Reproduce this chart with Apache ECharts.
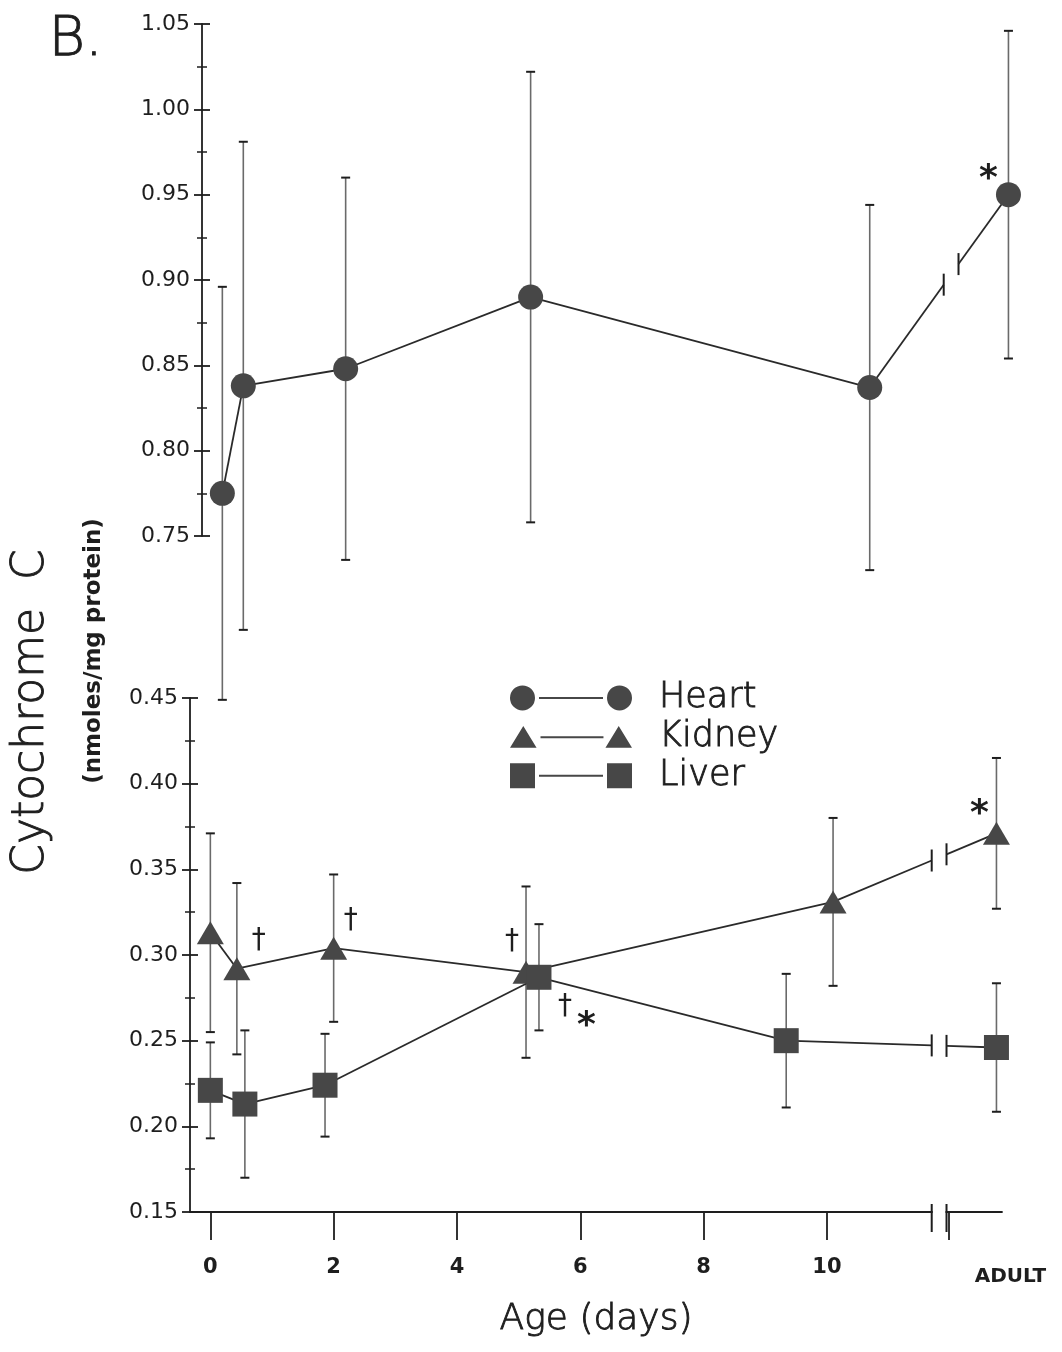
<!DOCTYPE html>
<html>
<head>
<meta charset="utf-8">
<script src="https://cdn.jsdelivr.net/npm/echarts@6/dist/echarts.min.js"></script>
<style>
  html, body { margin: 0; padding: 0; background: #fff; }
  #chart { width: 1062px; height: 1352px; }
</style>
</head>
<body>
<div id="chart"></div>
<script>
// Cytochrome C content by age, panel B
const ADULT_X = 12.75;

const heartDays = [0, 0.34, 2, 5, 10.5, ADULT_X];
const heartMean = [0.775, 0.838, 0.848, 0.890, 0.837, 0.950];
const heartErr = [0.121, 0.143, 0.112, 0.132, 0.107, 0.096];
const heartMarks = ['', '', '', '', '', '*'];

const kidneyDays = [0, 0.43, 2.0, 5.12, 10.1, ADULT_X];
const kidneyMean = [0.313, 0.292, 0.304, 0.290, 0.331, 0.371];
const kidneyErr = [0.058, 0.050, 0.043, 0.050, 0.049, 0.044];
const kidneyMarks = ['', '\u2020', '\u2020', '\u2020', '', '*'];

const liverDays = [0, 0.56, 1.86, 5.33, 9.34, ADULT_X];
const liverMean = [0.221, 0.213, 0.224, 0.287, 0.250, 0.246];
const liverErr = [0.028, 0.043, 0.030, 0.031, 0.039, 0.0375];
const liverMarks = ['', '', '', '\u2020*', '', ''];

const xTickValues = [0, 2, 4, 6, 8, 10];
const adultTick = 11.98;
const breakAt = [11.70, 11.94];

// axis ranges
const XMIN = -0.33, XMAX = 12.84;
const topRange = [0.75, 1.05];
const lowRange = [0.15, 0.45];

const ink = '#1e1e1e';
const markColor = '#474747';
const barColor = '#6a6a6a';
const font = 'DejaVu Sans';

// label offsets for the significance marks, keyed by series and point index
const markOffsets = {
  Heart: { 5: [-20, -15] },
  Kidney: { 1: [22, -28], 2: [17, -27], 3: [-14, -30], 5: [-17, -19] },
  Liver: { 3: [19, 39] }
};

const chart = echarts.init(document.getElementById('chart'));

function errorBars(days, mean, err, gridIdx) {
  return {
    type: 'custom',
    xAxisIndex: gridIdx,
    yAxisIndex: gridIdx * 2,
    clip: false,
    z: 2,
    silent: true,
    data: days.map((d, i) => [d, mean[i], err[i]]),
    encode: { x: 0, y: 1 },
    renderItem: function (params, api) {
      const x = api.value(0), y = api.value(1), e = api.value(2);
      const hi = api.coord([x, y + e]);
      const lo = api.coord([x, y - e]);
      const cap = 4.5;
      const st = { stroke: barColor, lineWidth: 1.6 };
      return {
        type: 'group',
        children: [
          { type: 'line', shape: { x1: hi[0], y1: hi[1], x2: lo[0], y2: lo[1] }, style: st },
          { type: 'line', shape: { x1: hi[0] - cap, y1: hi[1], x2: hi[0] + cap, y2: hi[1] }, style: { stroke: ink, lineWidth: 2 } },
          { type: 'line', shape: { x1: lo[0] - cap, y1: lo[1], x2: lo[0] + cap, y2: lo[1] }, style: { stroke: ink, lineWidth: 2 } }
        ]
      };
    }
  };
}

function connectLines(days, mean, gridIdx) {
  return {
    type: 'custom',
    xAxisIndex: gridIdx,
    yAxisIndex: gridIdx * 2,
    clip: false,
    z: 3,
    silent: true,
    data: days.map((d, i) => [d, mean[i]]),
    encode: { x: 0, y: 1 },
    renderItem: function (params, api) {
      const i = params.dataIndex;
      if (i === 0) return null;
      const a = api.coord([days[i - 1], mean[i - 1]]);
      const b = api.coord([days[i], mean[i]]);
      const st = { stroke: '#2a2a2a', lineWidth: 1.8 };
      if (days[i - 1] < breakAt[0] && days[i] > breakAt[1]) {
        const xl = api.coord([breakAt[0], mean[i]])[0];
        const xr = api.coord([breakAt[1], mean[i]])[0];
        const t = (x) => a[1] + (x - a[0]) / (b[0] - a[0]) * (b[1] - a[1]);
        const yl = t(xl), yr = t(xr);
        return {
          type: 'group',
          children: [
            { type: 'line', shape: { x1: a[0], y1: a[1], x2: xl, y2: yl }, style: st },
            { type: 'line', shape: { x1: xl, y1: yl - 11, x2: xl, y2: yl + 11 }, style: { stroke: ink, lineWidth: 2 } },
            { type: 'line', shape: { x1: xr, y1: yr - 11, x2: xr, y2: yr + 11 }, style: { stroke: ink, lineWidth: 2 } },
            { type: 'line', shape: { x1: xr, y1: yr, x2: b[0], y2: b[1] }, style: st }
          ]
        };
      }
      return { type: 'line', shape: { x1: a[0], y1: a[1], x2: b[0], y2: b[1] }, style: st };
    }
  };
}

function markText(mark) {
  // a dagger followed by an asterisk sits as a small step down
  if (mark.length > 1) return '{dag|' + mark[0] + '}\n{gap|}{ast|' + mark[1] + '}';
  return mark === '*' ? '{ast|*}' : '{dag|' + mark + '}';
}

function markers(name, days, mean, marks, symbol, size, gridIdx) {
  return {
    name: name,
    type: 'scatter',
    xAxisIndex: gridIdx,
    yAxisIndex: gridIdx * 2,
    symbol: symbol,
    symbolSize: size,
    z: 4,
    itemStyle: { color: markColor, opacity: 1 },
    data: days.map((d, i) => {
      const item = { value: [d, mean[i]] };
      if (marks[i]) {
        const pair = marks[i].length > 1;
        item.label = {
          show: true,
          position: 'inside',
          align: pair ? 'left' : 'center',
          formatter: markText(marks[i]),
          offset: markOffsets[name][i],
          rich: {
            dag: { fontFamily: font, fontSize: 28, color: ink, lineHeight: pair ? 20 : 30 },
            gap: { width: 19, lineHeight: 20 },
            ast: { fontFamily: font, fontSize: 36, color: ink, fontWeight: 'bold', lineHeight: pair ? 20 : 36 }
          }
        };
      }
      return item;
    })
  };
}

// axis break on the x axis
const axisBreak = {
  type: 'custom',
  xAxisIndex: 1,
  yAxisIndex: 2,
  clip: false,
  z: 5,
  silent: true,
  data: [[breakAt[0], breakAt[1]]],
  encode: { x: [0, 1] },
  renderItem: function (params, api) {
    const l = api.coord([api.value(0), lowRange[0]]);
    const r = api.coord([api.value(1), lowRange[0]]);
    return {
      type: 'group',
      children: [
        { type: 'rect', shape: { x: l[0] + 1, y: l[1] - 3, width: r[0] - l[0] - 2, height: 6 }, style: { fill: '#fff' } },
        { type: 'line', shape: { x1: l[0], y1: l[1] - 8, x2: l[0], y2: l[1] + 20 }, style: { stroke: ink, lineWidth: 2 } },
        { type: 'line', shape: { x1: r[0], y1: r[1] - 8, x2: r[0], y2: r[1] + 20 }, style: { stroke: ink, lineWidth: 2 } }
      ]
    };
  }
};

function yAxes(range, gridIdx) {
  const labelled = {
    type: 'value',
    gridIndex: gridIdx,
    min: range[0],
    max: range[1],
    interval: 0.05,
    axisLine: { show: true, onZero: false, lineStyle: { color: ink, width: 1.8 } },
    axisTick: { show: true, length: 8, lineStyle: { color: ink, width: 1.8 } },
    minorTick: { show: true, splitNumber: 2, length: 5, lineStyle: { color: ink, width: 1.5 } },
    splitLine: { show: false },
    axisLabel: {
      margin: 12,
      color: ink,
      fontFamily: font,
      fontSize: 22,
      formatter: (v) => v.toFixed(2)
    }
  };
  const inner = {
    type: 'value',
    gridIndex: gridIdx,
    min: range[0],
    max: range[1],
    interval: 0.05,
    position: 'left',
    axisLine: { show: false, onZero: false },
    axisTick: { show: true, inside: true, length: 8, lineStyle: { color: ink, width: 1.8 } },
    minorTick: { show: true, splitNumber: 2, length: 5, lineStyle: { color: ink, width: 1.5 } },
    splitLine: { show: false },
    axisLabel: { show: false }
  };
  return [labelled, inner];
}

const thinText = { textBorderColor: ink, textBorderWidth: 0.9 };

const option = {
  animation: false,
  backgroundColor: '#fff',
  grid: [
    { left: 202, right: 48, top: 24, height: 512 },
    { left: 190, right: 60, top: 698, height: 514 }
  ],
  xAxis: [
    { type: 'value', gridIndex: 0, min: XMIN, max: XMAX, show: false },
    {
      type: 'value',
      gridIndex: 1,
      min: XMIN,
      max: XMAX,
      name: 'Age (days)',
      nameLocation: 'middle',
      nameGap: 90,
      nameTextStyle: Object.assign({ fontFamily: font, fontSize: 36, color: ink, fontWeight: 200 }, thinText),
      axisLine: { show: true, onZero: false, lineStyle: { color: ink, width: 1.8 } },
      axisTick: {
        show: true,
        length: 28,
        customValues: xTickValues.concat([adultTick]),
        lineStyle: { color: ink, width: 1.8 }
      },
      axisLabel: {
        margin: 45,
        customValues: xTickValues.concat([XMAX - 0.01]),
        color: ink,
        fontFamily: font,
        fontSize: 21,
        fontWeight: 'bold',
        formatter: (v) => (v > 11 ? '{adult|ADULT}' : String(v)),
        rich: {
          adult: { fontFamily: font, fontSize: 20, fontWeight: 'bold', color: ink, padding: [10, 0, 0, 18] }
        }
      },
      splitLine: { show: false }
    }
  ],
  yAxis: yAxes(topRange, 0).concat(yAxes(lowRange, 1)),
  legend: {
    left: 505,
    top: 675,
    orient: 'vertical',
    itemWidth: 122,
    itemHeight: 25,
    itemGap: 3,
    selectedMode: false,
    textStyle: Object.assign({
      fontFamily: font, fontSize: 35, color: ink, fontWeight: 200,
      padding: [0, 0, 0, 22]
    }, thinText),
    data: [
      { name: 'Heart', icon: 'path://M0,12.5 A12.5,12.5 0 1 1 25,12.5 A12.5,12.5 0 1 1 0,12.5 Z M29,11.5 L93,11.5 L93,13.5 L29,13.5 Z M97,12.5 A12.5,12.5 0 1 1 122,12.5 A12.5,12.5 0 1 1 97,12.5 Z' },
      { name: 'Kidney', icon: 'path://M12.5,1 L26,23 L-1,23 Z M30,11.5 L94,11.5 L94,13.5 L30,13.5 Z M109.5,1 L123,23 L96,23 Z' },
      { name: 'Liver', icon: 'path://M0,0 L25,0 L25,25 L0,25 Z M29,11.5 L93,11.5 L93,13.5 L29,13.5 Z M97,0 L122,0 L122,25 L97,25 Z' }
    ]
  },
  graphic: [
    { type: 'text', left: 48, top: 12, style: { text: 'B.', fontFamily: font, fontSize: 56, fontWeight: 200, fill: ink, stroke: ink, lineWidth: 0.9 } },
    {
      type: 'text', x: 32, y: 712, rotation: Math.PI / 2,
      style: { text: 'Cytochrome  C', fontFamily: font, fontSize: 44, fontWeight: 200, fill: ink, stroke: ink, lineWidth: 0.9, align: 'center', verticalAlign: 'middle' }
    },
    {
      type: 'text', x: 94, y: 651, rotation: Math.PI / 2,
      style: { text: '(nmoles/mg protein)', fontFamily: font, fontSize: 23, fontWeight: 'bold', fill: ink, align: 'center', verticalAlign: 'middle' }
    }
  ],
  series: [
    errorBars(heartDays, heartMean, heartErr, 0),
    errorBars(kidneyDays, kidneyMean, kidneyErr, 1),
    errorBars(liverDays, liverMean, liverErr, 1),
    connectLines(heartDays, heartMean, 0),
    connectLines(kidneyDays, kidneyMean, 1),
    connectLines(liverDays, liverMean, 1),
    markers('Heart', heartDays, heartMean, heartMarks, 'circle', 25, 0),
    markers('Kidney', kidneyDays, kidneyMean, kidneyMarks, 'triangle', [27, 23], 1),
    markers('Liver', liverDays, liverMean, liverMarks, 'rect', 25, 1),
    axisBreak
  ]
};

chart.setOption(option);
</script>
</body>
</html>
